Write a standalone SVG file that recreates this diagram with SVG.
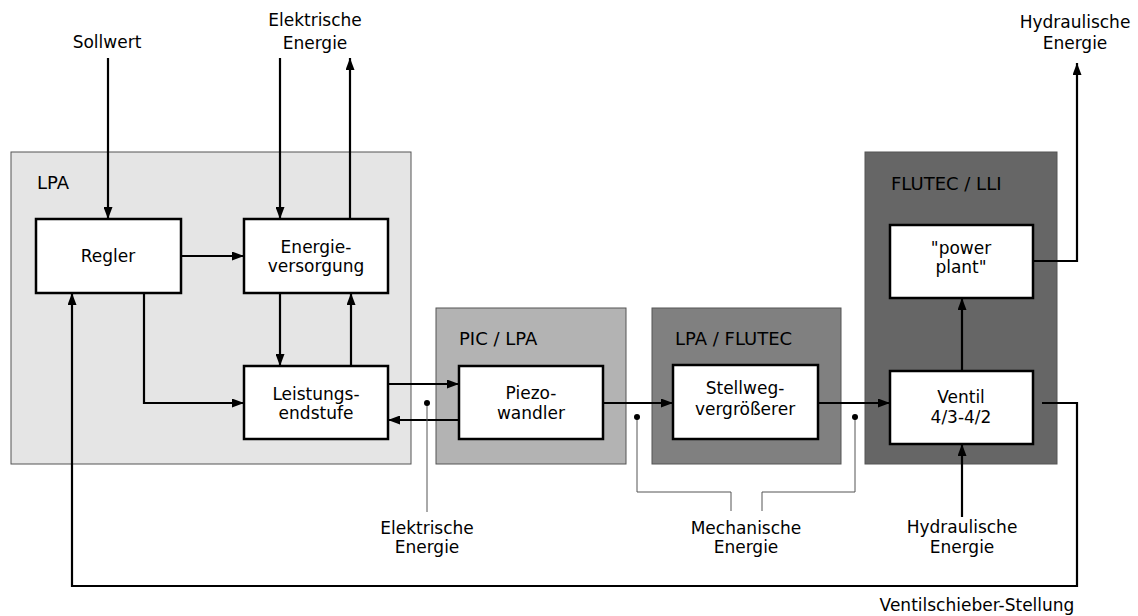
<svg xmlns="http://www.w3.org/2000/svg" width="1138" height="616" viewBox="0 0 1138 616">
<style>
.grp{stroke:#555;stroke-width:1}
.box{fill:#fff;stroke:#000;stroke-width:2.5}
.t{font-family:"DejaVu Sans","Liberation Sans",sans-serif;font-size:17px;fill:#000;text-anchor:middle}
.ttl{font-family:"DejaVu Sans","Liberation Sans",sans-serif;font-size:18px;fill:#000}
.c{fill:none;stroke:#000;stroke-width:2.2}
.thin{fill:none;stroke:#555;stroke-width:1}
</style>
<defs>
<marker id="ah" viewBox="0 0 12 9" refX="12" refY="4.5" markerWidth="12" markerHeight="9" markerUnits="userSpaceOnUse" orient="auto">
<path d="M0,0 L12,4.5 L0,9 z" fill="#000"/>
</marker>
</defs>
<rect width="1138" height="616" fill="#fff"/>

<g id="grp-lpa">
<rect class="grp" x="11" y="152" width="400" height="312" fill="#e5e5e5"/>
<text class="ttl" x="37" y="189">LPA</text>
</g>
<g id="grp-pic">
<rect class="grp" x="436" y="308" width="190" height="156" fill="#b3b3b3"/>
<text class="ttl" x="459" y="345">PIC / LPA</text>
</g>
<g id="grp-lpaflutec">
<rect class="grp" x="652" y="308" width="189" height="156" fill="#808080"/>
<text class="ttl" x="675" y="345">LPA / FLUTEC</text>
</g>
<g id="grp-flutec">
<rect class="grp" x="865" y="152" width="192" height="312" fill="#666666"/>
<text class="ttl" x="891" y="190">FLUTEC / LLI</text>
</g>

<g id="regler">
<rect class="box" x="36" y="219" width="145" height="74"/>
<text class="t" x="108" y="262">Regler</text>
</g>
<g id="energieversorgung">
<rect class="box" x="244" y="219" width="144" height="74"/>
<text class="t" x="316" y="253">Energie-</text>
<text class="t" x="316" y="272">versorgung</text>
</g>
<g id="leistungsendstufe">
<rect class="box" x="244" y="366" width="144" height="73"/>
<text class="t" x="316" y="400">Leistungs-</text>
<text class="t" x="316" y="419">endstufe</text>
</g>
<g id="piezowandler">
<rect class="box" x="459" y="366" width="144" height="73"/>
<text class="t" x="531" y="399">Piezo-</text>
<text class="t" x="531" y="419">wandler</text>
</g>
<g id="stellweg">
<rect class="box" x="673" y="365" width="145" height="74"/>
<text class="t" x="745" y="394">Stellweg-</text>
<text class="t" x="745" y="415">vergrößerer</text>
</g>
<g id="ventil">
<rect class="box" x="890" y="371" width="143" height="73"/>
<text class="t" x="961" y="403">Ventil</text>
<text class="t" x="961" y="423">4/3-4/2</text>
</g>
<g id="powerplant">
<rect class="box" x="890" y="225" width="143" height="73"/>
<text class="t" x="961" y="254">"power</text>
<text class="t" x="961" y="273">plant"</text>
</g>

<g id="labels">
<text class="t" x="107" y="48">Sollwert</text>
<text class="t" x="315" y="26">Elektrische</text>
<text class="t" x="315" y="49">Energie</text>
<text class="t" x="1075" y="28">Hydraulische</text>
<text class="t" x="1075" y="49">Energie</text>
<text class="t" x="427" y="534">Elektrische</text>
<text class="t" x="427" y="553">Energie</text>
<text class="t" x="746" y="534">Mechanische</text>
<text class="t" x="746" y="553">Energie</text>
<text class="t" x="962" y="533">Hydraulische</text>
<text class="t" x="962" y="553">Energie</text>
<text class="t" x="977" y="611">Ventilschieber-Stellung</text>
</g>

<g id="connectors">
<path class="c" d="M108,58 V219" marker-end="url(#ah)"/>
<path class="c" d="M280,58 V219" marker-end="url(#ah)"/>
<path class="c" d="M350,219 V58" marker-end="url(#ah)"/>
<path class="c" d="M181,256 H244" marker-end="url(#ah)"/>
<path class="c" d="M144,293 V403 H244" marker-end="url(#ah)"/>
<path class="c" d="M280,293 V366" marker-end="url(#ah)"/>
<path class="c" d="M351,366 V293" marker-end="url(#ah)"/>
<path class="c" d="M388,384 H459" marker-end="url(#ah)"/>
<path class="c" d="M459,420 H388" marker-end="url(#ah)"/>
<path class="c" d="M603,403 H673" marker-end="url(#ah)"/>
<path class="c" d="M818,403 H890" marker-end="url(#ah)"/>
<path class="c" d="M962,371 V298" marker-end="url(#ah)"/>
<path class="c" d="M962,517 V444" marker-end="url(#ah)"/>
<path class="c" d="M1033,261 H1077 V63" marker-end="url(#ah)"/>
<path class="c" d="M1042,403 H1077 V586 H72 V293" marker-end="url(#ah)"/>
<path class="thin" d="M427,403 V512"/>
<path class="thin" d="M637,417 V492 H731 V511"/>
<path class="thin" d="M855,417 V492 H762 V511"/>
<circle cx="427" cy="403" r="3" fill="#000"/>
<circle cx="637" cy="417" r="3" fill="#000"/>
<circle cx="855" cy="417" r="3" fill="#000"/>
</g>
</svg>
